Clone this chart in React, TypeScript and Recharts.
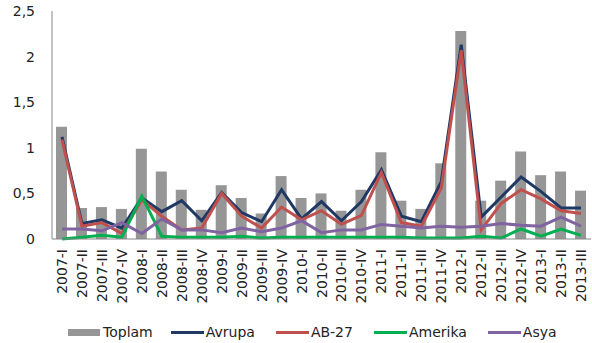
import React from 'react';
import { ComposedChart, Bar, Line, XAxis, YAxis } from 'recharts';

const CATEGORIES = [
  '2007-I', '2007-II', '2007-III', '2007-IV',
  '2008-I', '2008-II', '2008-III', '2008-IV',
  '2009-I', '2009-II', '2009-III', '2009-IV',
  '2010-I', '2010-II', '2010-III', '2010-IV',
  '2011-I', '2011-II', '2011-III', '2011-IV',
  '2012-I', '2012-II', '2012-III', '2012-IV',
  '2013-I', '2013-II', '2013-III',
];

const TOPLAM = [1.23, 0.34, 0.35, 0.33, 0.99, 0.74, 0.54, 0.32, 0.59, 0.45, 0.28, 0.69, 0.45, 0.5, 0.31, 0.54, 0.95, 0.42, 0.33, 0.83, 2.28, 0.42, 0.64, 0.96, 0.7, 0.74, 0.53];
const AVRUPA = [1.12, 0.17, 0.21, 0.12, 0.45, 0.3, 0.42, 0.2, 0.51, 0.29, 0.19, 0.54, 0.22, 0.41, 0.2, 0.41, 0.76, 0.25, 0.19, 0.63, 2.13, 0.24, 0.46, 0.68, 0.52, 0.34, 0.34];
const AB27 = [1.09, 0.14, 0.18, 0.06, 0.43, 0.25, 0.1, 0.12, 0.5, 0.25, 0.12, 0.35, 0.21, 0.31, 0.16, 0.26, 0.73, 0.18, 0.14, 0.56, 2.07, 0.1, 0.39, 0.54, 0.44, 0.31, 0.28];
const AMERIKA = [0.0, 0.02, 0.04, 0.02, 0.47, 0.03, 0.02, 0.02, 0.02, 0.03, 0.01, 0.02, 0.02, 0.02, 0.02, 0.02, 0.02, 0.02, 0.01, 0.01, 0.01, 0.03, 0.01, 0.11, 0.03, 0.11, 0.04];
const ASYA = [0.11, 0.11, 0.09, 0.18, 0.06, 0.22, 0.1, 0.1, 0.07, 0.12, 0.08, 0.12, 0.2, 0.07, 0.1, 0.1, 0.16, 0.14, 0.12, 0.14, 0.13, 0.14, 0.17, 0.15, 0.14, 0.24, 0.14];

const Y_TICKS = [0, 0.5, 1, 1.5, 2, 2.5];

const data = CATEGORIES.map((cat, i) => ({
  cat,
  Toplam: TOPLAM[i],
  Avrupa: AVRUPA[i],
  'AB-27': AB27[i],
  Amerika: AMERIKA[i],
  Asya: ASYA[i],
}));

const FONT = '"DejaVu Sans", sans-serif';

const SERIES = [
  { name: 'Avrupa', color: '#1f3864' },
  { name: 'AB-27', color: '#c0504d' },
  { name: 'Amerika', color: '#00b050' },
  { name: 'Asya', color: '#8064a2' },
];

const RotatedTick = (props: any) => {
  const { x, y, payload } = props;
  return (
    <text
      x={0}
      y={0}
      transform={`translate(${x},${y}) rotate(-90)`}
      textAnchor="end"
      dominantBaseline="central"
      fontSize={14}
      fontFamily={FONT}
      fill="#222"
    >
      {payload.value}
    </text>
  );
};

const LegendRow = () => (
  <div
    style={{
      position: 'absolute',
      left: 68,
      top: 323,
      display: 'flex',
      alignItems: 'center',
      fontFamily: FONT,
      fontSize: 14,
      color: '#222',
      lineHeight: '18px',
    }}
  >
    <span style={{ display: 'inline-block', width: 32, height: 7, background: '#969696', marginRight: 3 }} />
    <span style={{ marginRight: 18 }}>Toplam</span>
    {SERIES.map(s => (
      <React.Fragment key={s.name}>
        <span style={{ display: 'inline-block', width: 33, height: 3, background: s.color, marginRight: 2 }} />
        <span style={{ marginRight: 21 }}>{s.name}</span>
      </React.Fragment>
    ))}
  </div>
);

export default function App() {
  return (
    <div style={{ position: 'absolute', left: 0, top: 0, width: 592, height: 343, background: '#fff' }}>
      <ComposedChart width={592} height={343} data={data} margin={{ top: 11, right: 1, left: 0, bottom: 0 }}>
        <XAxis
          dataKey="cat"
          interval={0}
          tick={<RotatedTick />}
          tickLine={false}
          tickSize={0}
          tickMargin={10}
          height={104}
          axisLine={{ stroke: '#868686' }}
        />
        <XAxis xAxisId="top" dataKey="cat" orientation="top" height={0} tick={false} tickLine={false} axisLine={{ stroke: '#868686' }} />
        <YAxis
          domain={[0, 2.5]}
          ticks={Y_TICKS}
          width={52}
          tickLine={false}
          tickSize={0}
          tickMargin={17}
          axisLine={{ stroke: '#868686' }}
          tickFormatter={(v: number) => String(v).replace('.', ',')}
          tick={{ fontSize: 14, fontFamily: FONT, fill: '#222' }}
        />
        <YAxis yAxisId="right" orientation="right" width={0} tick={false} tickLine={false} axisLine={{ stroke: '#868686' }} />
        <Bar dataKey="Toplam" fill="#969696" barSize={11} isAnimationActive={false} />
        {SERIES.map(s => (
          <Line
            key={s.name}
            dataKey={s.name}
            stroke={s.color}
            strokeWidth={3}
            dot={false}
            type="linear"
            isAnimationActive={false}
          />
        ))}
      </ComposedChart>
      <LegendRow />
    </div>
  );
}
